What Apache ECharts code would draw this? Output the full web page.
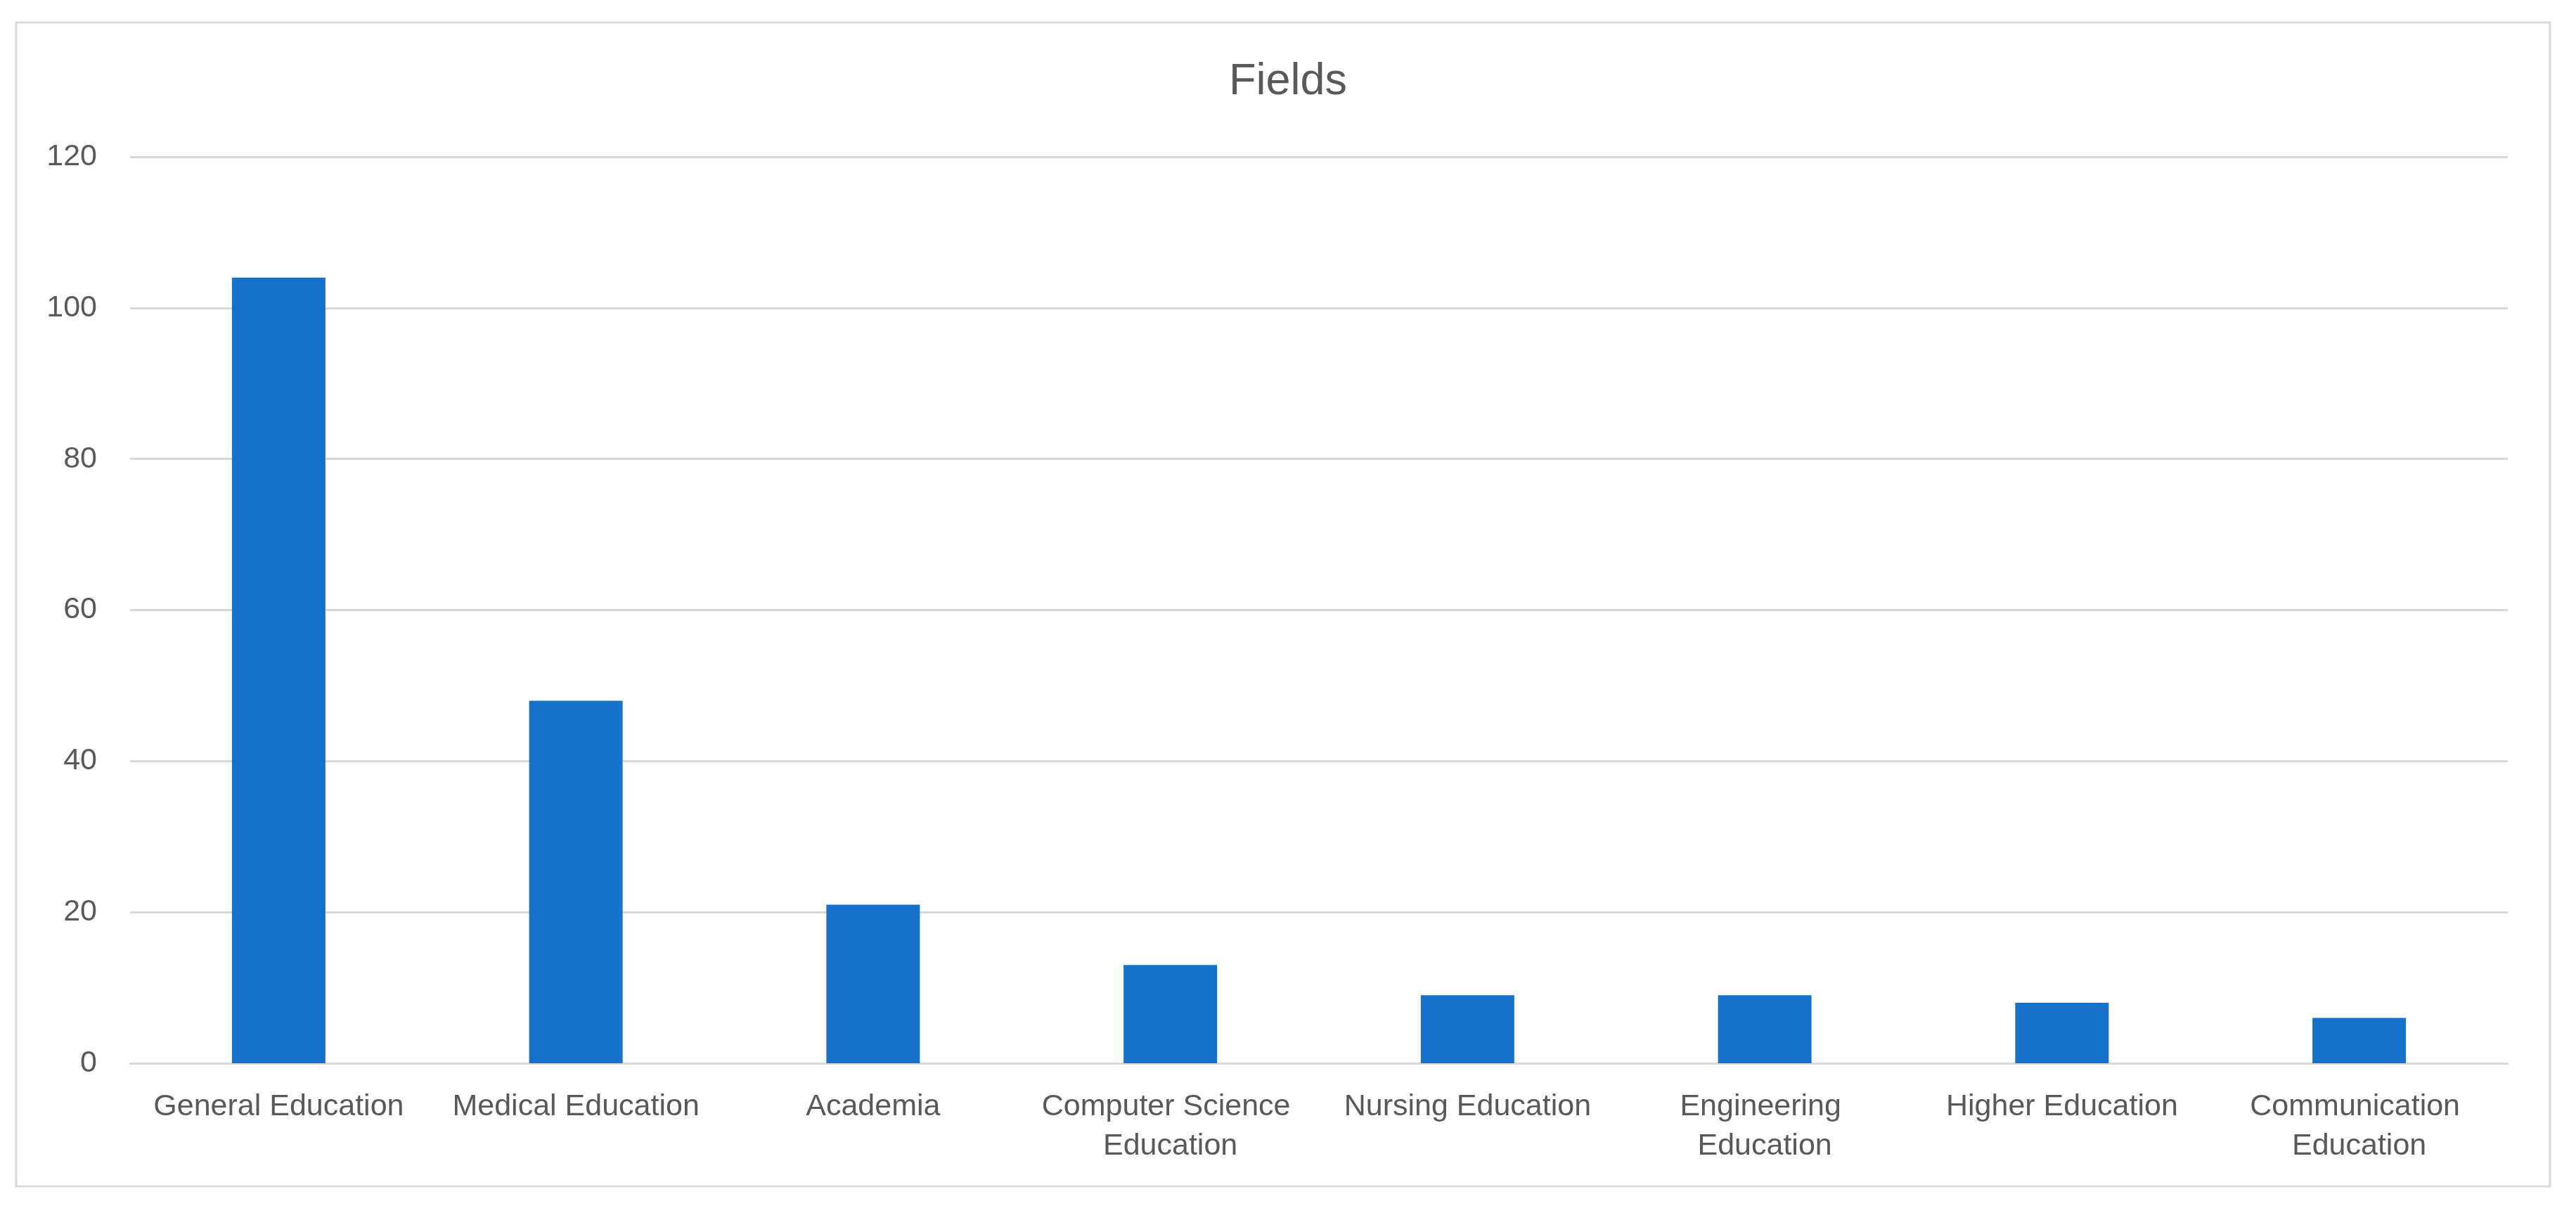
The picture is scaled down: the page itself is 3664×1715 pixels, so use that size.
<!DOCTYPE html>
<html>
<head>
<meta charset="utf-8">
<script src="https://cdn.jsdelivr.net/npm/echarts@6/dist/echarts.min.js"></script>
<style>
html,body{margin:0;padding:0;background:#fff;}
#chart{width:3664px;height:1715px;}
</style>
</head>
<body>
<div id="chart"></div>
<script>
const titleText = 'Fields';
const categories = ['General Education','Medical Education','Academia','Computer Science Education','Nursing Education','Engineering Education','Higher Education','Communication Education'];
const values = [104, 48, 21, 13, 9, 9, 8, 6];
const yTicks = [0, 20, 40, 60, 80, 100, 120];

const chart = echarts.init(document.getElementById('chart'), null, {renderer:'canvas'});
const font = 'Liberation Sans, Arial, sans-serif';
const textColor = '#595959';
const lineColor = '#d9d9d9';

chart.setOption({
  backgroundColor: '#ffffff',
  animation: false,
  title: {
    text: titleText,
    left: 'center',
    top: 80,
    textStyle: {fontFamily: font, fontSize: 63, fontWeight: 'normal', color: textColor}
  },
  graphic: [{
    type: 'rect',
    shape: {x: 23, y: 32, width: 3604, height: 1655},
    style: {fill: 'none', stroke: lineColor, lineWidth: 3},
    silent: true
  }],
  grid: {left: 185, right: 97, top: 223, bottom: 203},
  xAxis: {
    type: 'category',
    data: categories,
    axisTick: {show: false},
    axisLine: {show: true, lineStyle: {color: lineColor, width: 3}},
    axisLabel: {
      interval: 0,
      margin: 34,
      fontFamily: font,
      fontSize: 43,
      lineHeight: 56,
      color: textColor,
      width: 400,
      overflow: 'break'
    }
  },
  yAxis: {
    type: 'value',
    min: yTicks[0],
    max: yTicks[yTicks.length - 1],
    interval: yTicks[1] - yTicks[0],
    axisLine: {show: false},
    axisTick: {show: false},
    splitLine: {show: true, lineStyle: {color: lineColor, width: 3}},
    axisLabel: {margin: 47, fontFamily: font, fontSize: 43, color: textColor}
  },
  series: [{
    type: 'bar',
    data: values,
    barWidth: 133,
    itemStyle: {color: '#1672c9'}
  }]
});
</script>
</body>
</html>
